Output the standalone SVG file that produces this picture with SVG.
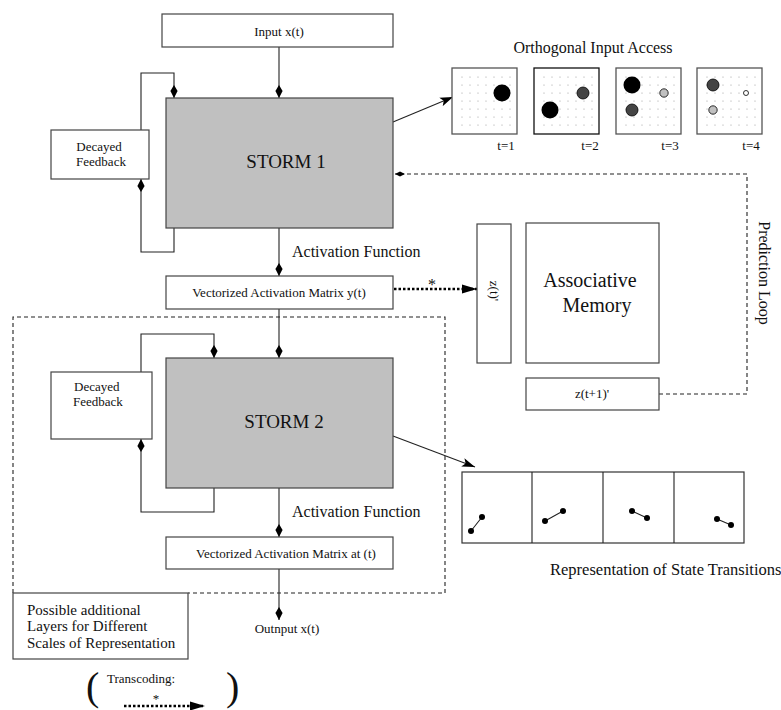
<svg xmlns="http://www.w3.org/2000/svg" width="781" height="710" viewBox="0 0 781 710">
<style>
text{font-family:"Liberation Serif","Times New Roman",serif;fill:#111}
.box{fill:#fff;stroke:#444;stroke-width:1.2}
.storm{fill:#c0c0c0;stroke:#444;stroke-width:1.2}
.ln{fill:none;stroke:#222;stroke-width:1.1}
.dash{fill:none;stroke:#222;stroke-width:1.1;stroke-dasharray:4,3}
.dot{fill:none;stroke:#000;stroke-width:2.4;stroke-dasharray:2.5,2}
.panel{fill:#fff;stroke:#555;stroke-width:1.3}
.gd{fill:#999}
.s13{font-size:13px}
.s15{font-size:15px}
.s16{font-size:16px}
.mid{text-anchor:middle}
</style>
<defs>
<marker id="dia" markerWidth="14" markerHeight="8" refX="13" refY="4" orient="auto" markerUnits="userSpaceOnUse"><path d="M13,4 L6,0.4 L0,4 L6,7.6 Z" fill="#000"/></marker>
<marker id="dias" markerWidth="11" markerHeight="6" refX="10" refY="3" orient="auto" markerUnits="userSpaceOnUse"><path d="M10,3 L5,0.5 L0,3 L5,5.5 Z" fill="#000"/></marker>
<marker id="tri" markerWidth="14" markerHeight="10" refX="13" refY="5" orient="auto" markerUnits="userSpaceOnUse"><path d="M13,5 L0,0.5 L3,5 L0,9.5 Z" fill="#000"/></marker>
<marker id="big" markerWidth="16" markerHeight="10" refX="15" refY="5" orient="auto" markerUnits="userSpaceOnUse"><path d="M15,5 L0,0.5 L0,9.5 Z" fill="#000"/></marker>
<g id="grid">
<circle cx="10" cy="9" r="0.6"/><circle cx="18" cy="9" r="0.6"/><circle cx="26" cy="9" r="0.6"/><circle cx="34" cy="9" r="0.6"/><circle cx="42" cy="9" r="0.6"/><circle cx="50" cy="9" r="0.6"/><circle cx="58" cy="9" r="0.6"/>
</g>
<g id="dots" class="gd">
<use href="#grid" y="0"/><use href="#grid" y="8"/><use href="#grid" y="16"/><use href="#grid" y="24"/><use href="#grid" y="32"/><use href="#grid" y="40"/><use href="#grid" y="48"/>
</g>
</defs>

<g id="connectors">
<path class="ln" d="M279,47 V98" marker-end="url(#dia)"/>
<path class="ln" d="M141,130 V73 H174 V98" marker-end="url(#dia)"/>
<path class="ln" d="M174,228 V252 H141 V179" marker-end="url(#dia)"/>
<path class="ln" d="M279,228 V276" marker-end="url(#dia)"/>
<path class="ln" d="M393,122 L453,97" marker-end="url(#tri)"/>
<path class="dot" d="M394,289 H477" marker-end="url(#big)"/>
<path class="dash" d="M659,394 H747 V174 H395" marker-end="url(#dias)"/>
<path class="ln" d="M279,309 V358" marker-end="url(#dia)"/>
<path class="ln" d="M141,372 V334 H214 V358" marker-end="url(#dia)"/>
<path class="ln" d="M214,488 V512 H141 V439" marker-end="url(#dia)"/>
<path class="ln" d="M279,488 V537" marker-end="url(#dia)"/>
<path class="ln" d="M279,569 V620" marker-end="url(#dia)"/>
<path class="ln" d="M393,436 L475,467" marker-end="url(#tri)"/>
<path class="dash" d="M13,593 V317 H445 V593 H188"/>
<path class="dot" d="M124,706 H205" marker-end="url(#big)"/>
</g>

<g id="input">
<rect class="box" x="162" y="14" width="231" height="33"/>
<text class="s13 mid" x="279" y="36">Input x(t)</text>
</g>

<g id="storm1">
<rect class="storm" x="166" y="98" width="227" height="130"/>
<text class="mid" x="286" y="168" style="font-size:19px">STORM 1</text>
</g>

<g id="feedback1">
<rect class="box" x="51" y="130" width="98" height="49"/>
<text class="s13 mid" x="99" y="151">Decayed</text>
<text class="s13 mid" x="101" y="166">Feedback</text>
</g>

<g id="act1">
<text class="s16" x="292" y="257">Activation Function</text>
</g>

<g id="vam1">
<rect class="box" x="166" y="276" width="227" height="33"/>
<text class="s13 mid" x="279" y="297">Vectorized Activation Matrix y(t)</text>
<text class="s16 mid" x="432" y="290">*</text>
</g>

<g id="orthogonal">
<text class="s16 mid" x="593" y="53">Orthogonal Input Access</text>
<g transform="translate(452,68)">
<rect class="panel" x="0" y="0" width="65" height="66"/>
<use href="#dots"/>
<circle cx="50" cy="25" r="8.5" fill="#000"/>
</g>
<g transform="translate(534,68)">
<rect class="panel" x="0" y="0" width="65" height="66" style="stroke:#111"/>
<use href="#dots"/>
<circle cx="16" cy="42" r="8.5" fill="#000"/>
<circle cx="49" cy="25" r="6" fill="#444" stroke="#000" stroke-width="0.8"/>
</g>
<g transform="translate(616,68)">
<rect class="panel" x="0" y="0" width="65" height="66"/>
<use href="#dots"/>
<circle cx="16" cy="17" r="8.5" fill="#000"/>
<circle cx="16" cy="42" r="6" fill="#444" stroke="#000" stroke-width="0.8"/>
<circle cx="48" cy="25" r="4.2" fill="#c0c0c0" stroke="#000" stroke-width="0.8"/>
</g>
<g transform="translate(697,68)">
<rect class="panel" x="0" y="0" width="65" height="66"/>
<use href="#dots"/>
<circle cx="16" cy="17" r="6" fill="#444" stroke="#000" stroke-width="0.8"/>
<circle cx="16" cy="42" r="4.2" fill="#c0c0c0" stroke="#000" stroke-width="0.8"/>
<circle cx="49" cy="25" r="2.5" fill="#fff" stroke="#000" stroke-width="0.8"/>
</g>
<text class="s13 mid" x="506" y="150">t=1</text>
<text class="s13 mid" x="590" y="150">t=2</text>
<text class="s13 mid" x="670" y="150">t=3</text>
<text class="s13 mid" x="751" y="150">t=4</text>
</g>

<g id="zt">
<rect class="box" x="477" y="224" width="34" height="139"/>
<text class="s13 mid" transform="translate(490,291) rotate(90)">z(t)'</text>
</g>

<g id="memory">
<rect class="box" x="526" y="223" width="133" height="140"/>
<text class="mid" x="590" y="287" style="font-size:20px">Associative</text>
<text class="mid" x="597" y="312" style="font-size:20px">Memory</text>
</g>

<g id="zt1">
<rect class="box" x="526" y="378" width="133" height="32"/>
<text class="s13 mid" x="592" y="398">z(t+1)'</text>
</g>

<g id="prediction">
<text class="s16 mid" transform="translate(759,273) rotate(90)">Prediction Loop</text>
</g>

<g id="storm2">
<rect class="storm" x="166" y="358" width="227" height="130"/>
<text class="mid" x="284" y="428" style="font-size:19px">STORM 2</text>
</g>

<g id="feedback2">
<rect class="box" x="51" y="372" width="101" height="67"/>
<text class="s13" x="74" y="391">Decayed</text>
<text class="s13" x="73" y="406">Feedback</text>
</g>

<g id="act2">
<text class="s16" x="292" y="517">Activation Function</text>
</g>

<g id="vam2">
<rect class="box" x="166" y="537" width="227" height="32"/>
<text class="s13 mid" x="286" y="558">Vectorized Activation Matrix at (t)</text>
</g>

<g id="output">
<text class="s13 mid" x="287" y="633">Outnput x(t)</text>
</g>

<g id="states">
<rect class="box" x="462" y="472" width="282" height="71" style="stroke:#333"/>
<path class="ln" d="M532,472 V543 M603,472 V543 M674,472 V543"/>
<path class="ln" d="M471,531 L482,517 M545,521 L563,511 M632,511 L647,518 M717,519 L731,525"/>
<g fill="#000">
<circle cx="471" cy="531" r="3"/><circle cx="482" cy="517" r="3"/>
<circle cx="545" cy="521" r="3"/><circle cx="563" cy="511" r="3"/>
<circle cx="632" cy="511" r="3"/><circle cx="647" cy="518" r="3"/>
<circle cx="717" cy="519" r="3"/><circle cx="731" cy="525" r="3"/>
</g>
<text x="550" y="575" style="font-size:16.5px">Representation of State Transitions</text>
</g>

<g id="layers">
<rect class="box" x="13" y="593" width="175" height="66"/>
<text class="s15" x="27" y="615">Possible additional</text>
<text class="s15" x="27" y="631">Layers for Different</text>
<text class="s15" x="27" y="648">Scales of Representation</text>
</g>

<g id="transcoding">
<text x="86" y="700" style="font-size:40px">(</text>
<text x="226" y="700" style="font-size:40px">)</text>
<text class="s13" x="107" y="683">Transcoding:</text>
<text class="s13 mid" x="156" y="703">*</text>
</g>
</svg>
